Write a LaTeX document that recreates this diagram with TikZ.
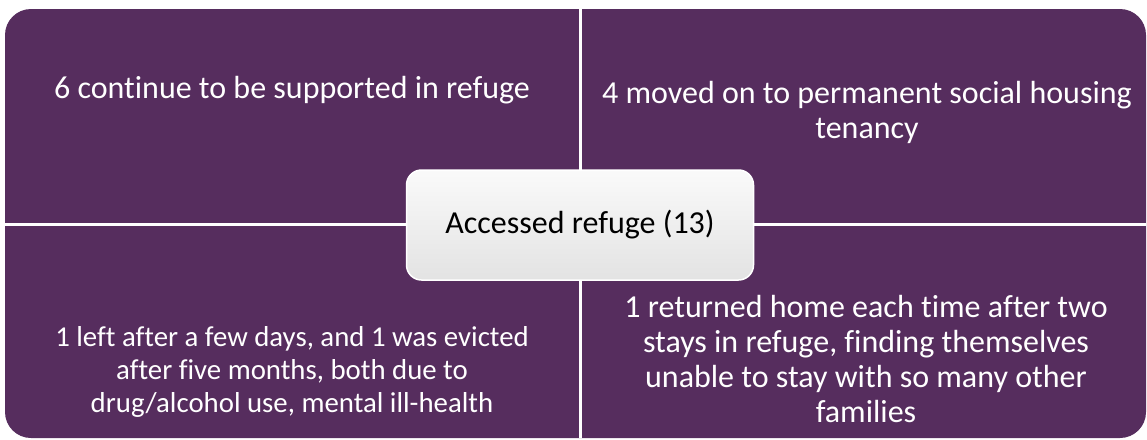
\documentclass[tikz,border=0pt]{standalone}
\usepackage{fontspec}
\setmainfont{Carlito}[Ligatures = NoCommon]

\definecolor{refugepurple}{RGB}{86,45,94}

\tikzset{
    quadtext/.style = {text = white, align = center, inner sep = 0pt,
        font = \fontsize{32}{35}\selectfont},
    smalltext/.style = {quadtext, font = \fontsize{28.8}{33}\selectfont},
    hub/.style = {draw = white, line width = 1.5pt, rounded corners = 15,
        top color = gray!4, bottom color = gray!22, text = black,
        minimum width = 347, minimum height = 110,
        font = \fontsize{32}{35}\selectfont}
}

\begin{document}
\begin{tikzpicture}[x = 1pt, y = -1pt]

    \def\width  {1147}
    \def\height {439}
    \def\midx   {580}
    \def\midy   {224}

    % canvas
    \useasboundingbox (0, 0) rectangle (\width, \height);
    % panel
    \path [fill = refugepurple, rounded corners = 26] (5, 9) rectangle (\width - 1, \height - 1);
    % vertical gap
    \path [fill = white] (\midx - 1.5, 9) rectangle ++(3, \height - 10);
    % horizontal gap
    \path [fill = white] (5, \midy - 1.5) rectangle ++(\width - 6, 3);

    % quadrant texts
    \node [quadtext]  (stayed)   at (292, 90)  {6 continue to be supported in refuge};
    \node [quadtext]  (movedon)  at (867, 112) {4 moved on to permanent social housing\\tenancy};
    \node [smalltext] (left)     at (292, 372) {1 left after a few days, and 1 was evicted\\after five months, both due to\\drug/alcohol use, mental ill-health};
    \node [quadtext]  (returned) at (866, 359.5) {1 returned home each time after two\\stays in refuge, finding themselves\\unable to stay with so many other\\families};

    % centre
    \node [hub] (accessed) at (\midx, 225) {Accessed refuge (13)};

\end{tikzpicture}
\end{document}
